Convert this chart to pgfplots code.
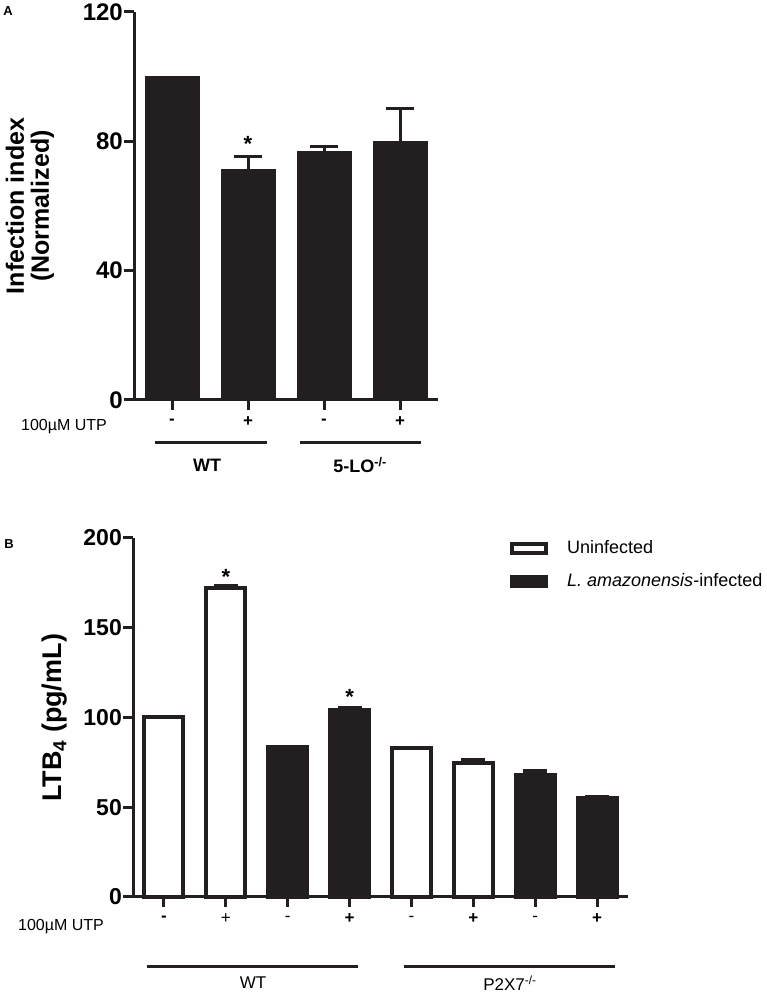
\documentclass[border=0pt]{standalone}
\usepackage{fontspec}
\setmainfont{Liberation Sans}
\usepackage{pgfplots}
\pgfplotsset{compat=1.18}
\definecolor{barc}{RGB}{35,31,32}
\newcommand{\fs}[1]{\fontsize{#1bp}{#1bp}\selectfont}
\begin{document}
\begin{tikzpicture}
\path[use as bounding box] (0,0) rectangle (767bp,993bp);
% ---------------- Panel A
\begin{axis}[
  at={(134bp,593bp)}, anchor=south west,
  scale only axis, width=304bp, height=388bp,
  xmin=-0.5, xmax=3.5, ymin=0, ymax=120,
  axis x line*=bottom, axis y line*=left,
  axis line style={line width=3bp, barc},
  ytick={0,40,80,120},
  xtick={0,1,2,3}, xticklabels={-,+,-,+},
  tick align=outside, major tick length=10bp,
  every tick/.style={line width=3bp, barc},
  /pgf/number format/assume math mode=true,
  yticklabel style={font=\fs{24}\bfseries, inner sep=1bp},
  xticklabel style={font=\fs{17}\bfseries, anchor=center, yshift=-12bp},
  ybar, bar width=54bp, /pgf/bar shift=0pt,
  clip=false,
]
\addplot[fill=barc, draw=barc, line width=0.5bp,
  error bars/.cd, y dir=plus, y explicit,
  error bar style={line width=3bp, barc},
  error mark options={rotate=90, mark size=14bp, line width=3bp, barc}]
  coordinates {(0,100) (1,71.4) +- (0,4) (2,77) +- (0,1.3) (3,80) +- (0,10.3)};
\node[font=\fs{22}\bfseries, anchor=base] at (axis cs:1,76.8) {*};
\end{axis}
\node[font=\fs{13}\bfseries] at (8bp,982bp) {A};
\node[font=\fs{25}\bfseries, rotate=90, align=center] at (30bp,787bp) {\fontsize{25bp}{33bp}\selectfont Infection index\\(Normalized)};
\node[font=\fs{16}] at (64bp,566bp) {100µM UTP};
\draw[line width=3bp, barc] (155bp,550bp) -- (267bp,550bp);
\draw[line width=3bp, barc] (300bp,550bp) -- (421bp,550bp);
\node[font=\fs{18}\bfseries] at (207bp,528bp) {WT};
\node[font=\fs{18}\bfseries] at (360bp,528bp) {5-LO\textsuperscript{-/-}};
% ---------------- Panel B
\begin{axis}[
  at={(133bp,96bp)}, anchor=south west,
  scale only axis, width=495bp, height=359bp,
  xmin=-0.5, xmax=7.5, ymin=0, ymax=200,
  axis x line*=bottom, axis y line*=left,
  axis line style={line width=3bp, barc},
  ytick={0,50,100,150,200},
  xtick={0,1,...,7}, xticklabels={\textbf{-},+,-,\textbf{+},-,\textbf{+},-,\textbf{+}},
  tick align=outside, major tick length=10bp,
  every tick/.style={line width=3bp, barc},
  /pgf/number format/assume math mode=true,
  yticklabel style={font=\fs{23}\bfseries, inner sep=1bp},
  xticklabel style={font=\fs{17}, anchor=center, yshift=-12bp},
  ybar, bar width=39bp, /pgf/bar shift=0pt,
  clip=false,
  legend style={draw=none, fill=none, at={(0.7616,0.994)}, anchor=north west,
    inner sep=0pt, row sep=16bp, column sep=19bp, font=\fs{18},
    nodes={inner sep=0pt, text height=13bp, text depth=4bp}},
  legend cell align=left,
]
\addplot[fill=white, draw=barc, line width=4bp,
  legend image code/.code={\draw[line width=4bp, draw=barc, fill=white] (0bp,-4.5bp) rectangle (34bp,4.5bp);},
  error bars/.cd, y dir=plus, y explicit,
  error bar style={line width=4bp, barc},
  error mark options={rotate=90, mark size=12bp, line width=4bp, barc}]
  coordinates {(0,100) (1,172) +- (0,1.3) (4,83) (5,74.6) +- (0,1.6)};
\addlegendentry{Uninfected}
\addplot[fill=barc, draw=barc, line width=4bp,
  legend image code/.code={\draw[line width=4bp, draw=barc, fill=barc] (0bp,-4.5bp) rectangle (34bp,4.5bp);},
  error bars/.cd, y dir=plus, y explicit,
  error bar style={line width=4bp, barc},
  error mark options={rotate=90, mark size=12bp, line width=4bp, barc}]
  coordinates {(2,83.5) (3,104.3) +- (0,1.2) (6,68) +- (0,2.2) (7,55) +- (0,0.8)};
\addlegendentry{\textit{L. amazonensis}-infected}
\node[font=\fs{22}\bfseries, anchor=base] at (axis cs:1,174) {*};
\node[font=\fs{22}\bfseries, anchor=base] at (axis cs:3,107) {*};
\end{axis}
\node[font=\fs{13}\bfseries] at (9bp,449bp) {B};
\node[font=\fs{27}\bfseries, rotate=90] at (55bp,275bp) {LTB\textsubscript{4} (pg/mL)};
\node[font=\fs{16}] at (61bp,66bp) {100µM UTP};
\draw[line width=3bp, barc] (147bp,26bp) -- (358bp,26bp);
\draw[line width=3bp, barc] (404bp,26bp) -- (615bp,26bp);
\node[font=\fs{17}] at (253bp,10bp) {WT};
\node[font=\fs{17}] at (510bp,10bp) {P2X7\textsuperscript{-/-}};
\end{tikzpicture}
\end{document}
